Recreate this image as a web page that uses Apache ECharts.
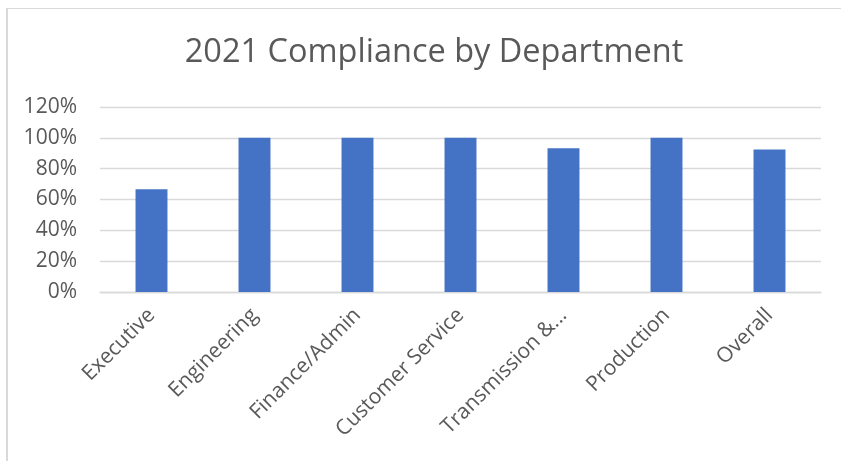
<!DOCTYPE html>
<html>
<head>
<meta charset="utf-8">
<script src="https://cdn.jsdelivr.net/npm/echarts@6/dist/echarts.min.js"></script>
<style>
html,body{margin:0;padding:0;background:#fff;}
#frame{position:absolute;left:6px;top:8px;width:835px;height:453px;border-left:2px solid #d9d9d9;border-top:1px solid #d9d9d9;box-sizing:border-box;}
#chart{position:absolute;left:0;top:0;width:841px;height:461px;}
</style>
</head>
<body>
<div id="frame"></div>
<div id="chart"></div>
<script>
const titleText = "2021 Compliance by Department";
const categories = ["Executive", "Engineering", "Finance/Admin", "Customer Service", "Transmission &...", "Production", "Overall"];
const compliance = [0.667, 1.0, 1.0, 1.0, 0.933, 1.0, 0.925];
const yTicks = [0, 0.2, 0.4, 0.6, 0.8, 1.0, 1.2];

const chart = echarts.init(document.getElementById('chart'), null, {renderer: 'canvas'});
const font = "'Open Sans', sans-serif";
chart.setOption({
  backgroundColor: 'transparent',
  animation: false,
  title: {
    text: titleText,
    left: 429,
    textAlign: 'center',
    top: 31,
    textStyle: {fontFamily: font, fontSize: 32.5, fontWeight: 'normal', color: '#595959'}
  },
  grid: {left: 100, right: 20, top: 107, bottom: 169, containLabel: false},
  xAxis: {
    type: 'category',
    data: categories,
    axisLine: {show: true, lineStyle: {color: '#d9d9d9', width: 1.3}},
    axisTick: {show: false},
    axisLabel: {rotate: 45, interval: 0, margin: 20, fontFamily: font, fontSize: 21, color: '#595959'}
  },
  yAxis: {
    type: 'value',
    min: yTicks[0],
    max: yTicks[yTicks.length - 1],
    interval: 0.2,
    axisLine: {show: false},
    axisTick: {show: false},
    splitLine: {lineStyle: {color: '#d9d9d9', width: 1.3}},
    axisLabel: {
      margin: 23,
      fontFamily: font, fontSize: 21, color: '#595959',
      formatter: v => Math.round(v * 100) + '%'
    }
  },
  series: [{
    type: 'bar',
    data: compliance,
    barWidth: '31%',
    itemStyle: {color: '#4472C4'}
  }]
});
</script>
</body>
</html>
